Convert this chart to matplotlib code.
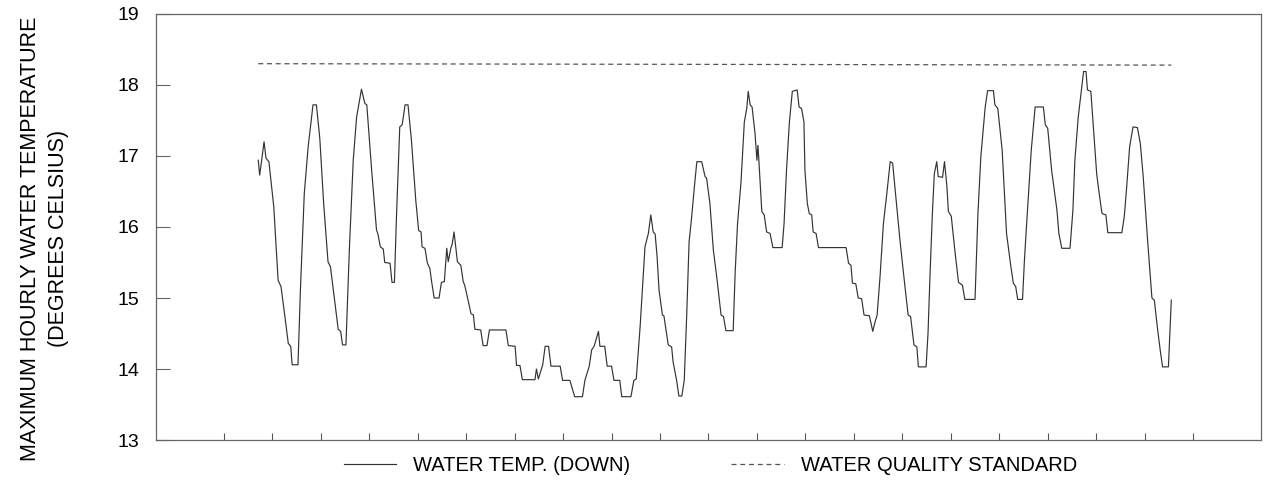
import matplotlib
matplotlib.use('Agg')
import matplotlib.pyplot as plt

# time in days (tick = 1 day), max hourly water temperature (deg C)
days = [0.71, 0.74, 0.83, 0.87, 0.93, 1.03, 1.12, 1.18, 1.26, 1.33, 1.38, 1.41, 1.53, 1.58, 1.66,
        1.74, 1.84, 1.91, 1.98, 2.06, 2.15, 2.20, 2.36, 2.41, 2.45, 2.52, 2.59, 2.67, 2.74, 2.84,
        2.91, 2.95, 3.05, 3.10, 3.15, 3.18, 3.23, 3.29, 3.32, 3.43, 3.47, 3.52, 3.56, 3.63, 3.68,
        3.74, 3.80, 3.87, 3.96, 4.02, 4.07, 4.09, 4.15, 4.20, 4.25, 4.29, 4.34, 4.44, 4.49, 4.55,
        4.60, 4.63, 4.69, 4.71, 4.75, 4.82, 4.89, 4.94, 4.97, 5.03, 5.10, 5.15, 5.18, 5.30, 5.35,
        5.43, 5.48, 5.82, 5.87, 6.01, 6.04, 6.11, 6.16, 6.42, 6.45, 6.49, 6.58, 6.63, 6.70, 6.75,
        6.94, 6.99, 7.14, 7.24, 7.40, 7.45, 7.54, 7.59, 7.64, 7.73, 7.76, 7.86, 7.91, 8.00, 8.05,
        8.17, 8.21, 8.40, 8.46, 8.51, 8.59, 8.69, 8.76, 8.81, 8.86, 8.90, 8.94, 8.98, 9.05, 9.08,
        9.17, 9.24, 9.27, 9.34, 9.39, 9.45, 9.50, 9.55, 9.60, 9.65, 9.71, 9.76, 9.86, 9.93, 9.96,
        10.03, 10.10, 10.17, 10.26, 10.31, 10.36, 10.51, 10.55, 10.60, 10.67, 10.74, 10.79, 10.82,
        10.86, 10.90, 10.96, 11.00, 11.02, 11.04, 11.10, 11.15, 11.20, 11.27, 11.33, 11.52, 11.56,
        11.61, 11.67, 11.73, 11.83, 11.87, 11.92, 11.97, 11.99, 12.04, 12.08, 12.13, 12.16, 12.22,
        12.27, 12.84, 12.89, 12.94, 12.97, 13.04, 13.09, 13.16, 13.21, 13.32, 13.39, 13.44, 13.48,
        13.54, 13.61, 13.68, 13.75, 13.80, 13.88, 13.95, 14.04, 14.12, 14.17, 14.24, 14.30, 14.33,
        14.49, 14.53, 14.57, 14.62, 14.66, 14.71, 14.74, 14.83, 14.87, 14.92, 14.95, 15.01, 15.09,
        15.16, 15.24, 15.29, 15.50, 15.56, 15.62, 15.71, 15.76, 15.88, 15.91, 15.97, 16.06, 16.15,
        16.24, 16.29, 16.34, 16.38, 16.48, 16.52, 16.57, 16.66, 16.74, 16.91, 16.95, 17.00, 17.08,
        17.19, 17.23, 17.29, 17.46, 17.52, 17.56, 17.63, 17.74, 17.79, 17.82, 17.89, 17.96, 18.01,
        18.07, 18.12, 18.20, 18.24, 18.53, 18.58, 18.63, 18.69, 18.76, 18.85, 18.91, 18.97, 19.06,
        19.15, 19.20, 19.26, 19.32, 19.37, 19.49, 19.55]
temp_down = [16.94, 16.73, 17.20, 16.97, 16.92, 16.29, 15.25, 15.16, 14.74, 14.36, 14.32, 14.06, 14.06, 15.11, 16.47,
             17.13, 17.72, 17.72, 17.25, 16.33, 15.51, 15.44, 14.56, 14.53, 14.34, 14.34, 15.68, 16.94, 17.55, 17.94,
             17.74, 17.72, 16.80, 16.38, 15.96, 15.90, 15.72, 15.69, 15.50, 15.49, 15.22, 15.22, 16.10, 17.41, 17.44,
             17.72, 17.72, 17.23, 16.38, 15.95, 15.93, 15.72, 15.70, 15.49, 15.42, 15.22, 15.00, 15.00, 15.22, 15.23,
             15.70, 15.51, 15.72, 15.75, 15.93, 15.51, 15.46, 15.23, 15.18, 15.00, 14.78, 14.76, 14.56, 14.55, 14.33,
             14.33, 14.55, 14.55, 14.33, 14.32, 14.05, 14.05, 13.85, 13.85, 14.00, 13.86, 14.06, 14.32, 14.32, 14.04,
             14.04, 13.84, 13.84, 13.61, 13.61, 13.84, 14.04, 14.27, 14.32, 14.53, 14.32, 14.32, 14.04, 14.04, 13.84,
             13.84, 13.61, 13.61, 13.84, 13.86, 14.60, 15.72, 15.91, 16.17, 15.93, 15.90, 15.58, 15.11, 14.76, 14.75,
             14.34, 14.31, 14.10, 13.85, 13.62, 13.62, 13.84, 14.74, 15.79, 16.12, 16.57, 16.92, 16.92, 16.71, 16.69,
             16.33, 15.68, 15.30, 14.76, 14.74, 14.54, 14.54, 15.35, 16.05, 16.62, 17.48, 17.67, 17.91,
             17.72, 17.69, 17.32, 16.94, 17.15, 16.94, 16.22, 16.17, 15.93, 15.91, 15.71, 15.71, 16.05,
             16.80, 17.48, 17.91, 17.93, 17.69, 17.67, 17.48, 16.80, 16.33, 16.19, 16.17, 15.93, 15.91,
             15.71, 15.71, 15.49, 15.46, 15.21, 15.20, 15.00, 14.99, 14.76, 14.75, 14.53, 14.67, 14.76,
             15.30, 16.05, 16.47, 16.92, 16.90, 16.33, 15.82, 15.25, 14.76, 14.74, 14.34, 14.31, 14.03,
             14.03, 14.50, 15.30, 16.19, 16.75, 16.92, 16.71, 16.70, 16.92, 16.57, 16.22, 16.15, 15.63,
             15.22, 15.18, 14.98, 14.98, 16.19, 16.99, 17.69, 17.92, 17.92, 17.72, 17.67, 17.08, 15.91,
             15.44, 15.21, 15.16, 14.98, 14.98, 15.54, 16.10, 17.08, 17.69, 17.69, 17.44, 17.39, 16.80,
             16.24, 15.91, 15.70, 15.70, 16.24, 16.94, 17.55, 18.19, 18.19, 17.93, 17.91, 17.23, 16.75,
             16.43, 16.19, 16.17, 15.92, 15.92, 16.15, 16.57, 17.13, 17.41, 17.40, 17.18, 16.71, 15.82,
             15.00, 14.97, 14.60, 14.27, 14.03, 14.03, 14.97]

std_days = [0.71, 19.55]
std_temp = [18.30, 18.28]

day_ticks = list(range(0, 21))
temp_ticks = [13, 14, 15, 16, 17, 18, 19]

plt.rcParams['font.family'] = ['Liberation Sans', 'DejaVu Sans']

fig = plt.figure(figsize=(12.64, 4.82), dpi=100)
ax = fig.add_axes([0.1234, 0.0871, 0.8742, 0.8839])

ax.plot(days, temp_down, color='#333333', linewidth=0.85, label='WATER TEMP. (DOWN)')
ax.plot(std_days, std_temp, color='#555555', linewidth=0.9, linestyle=(0, (4, 3)),
        label='WATER QUALITY STANDARD')

ax.set_xlim(-1.4, 21.4)
ax.set_ylim(13, 19)
ax.set_xticks(day_ticks)
ax.set_xticklabels([])
ax.set_yticks(temp_ticks)
ax.tick_params(axis='y', direction='in', length=10, width=0.8, color='#666666',
               labelsize=14, pad=12)
ax.tick_params(axis='x', direction='in', length=5, width=0.8, color='#555555')
for s in ax.spines.values():
    s.set_color('#666666')
    s.set_linewidth(0.9)

fig.text(0.0245, 0.505, 'MAXIMUM HOURLY WATER TEMPERATURE', rotation=90,
         ha='center', va='center', fontsize=15.5)
fig.text(0.046, 0.505, '(DEGREES CELSIUS)', rotation=90,
         ha='center', va='center', fontsize=15.5)

fig.legend(loc='center', bbox_to_anchor=(0.562, 0.035), bbox_transform=fig.transFigure,
           ncol=2, frameon=False, fontsize=14.5, handlelength=2.6, handletextpad=0.85,
           columnspacing=5.0, borderpad=0)

fig.savefig('out.png', dpi=100)
